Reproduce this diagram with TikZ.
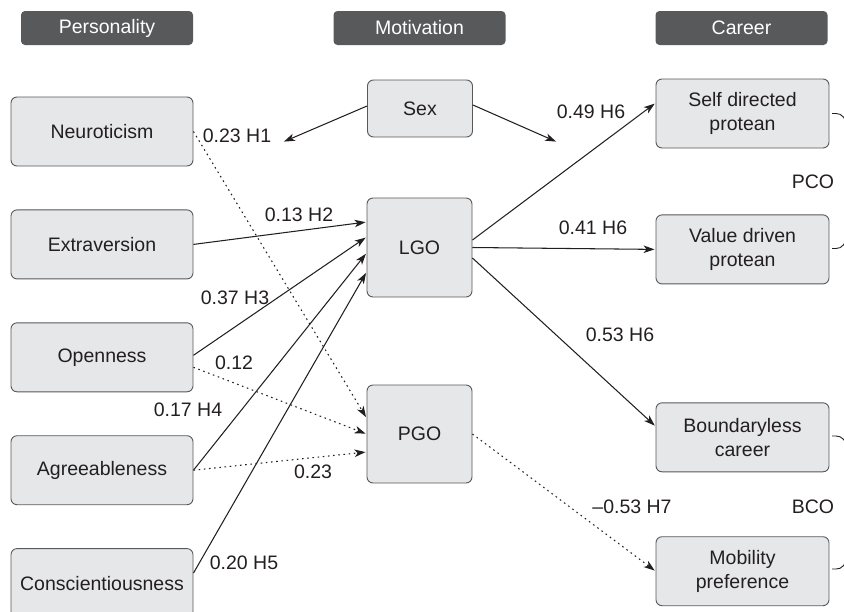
\documentclass[tikz,border=0pt]{standalone}
\usepackage{fontspec}
\setmainfont{Liberation Sans}
\usetikzlibrary{arrows.meta,positioning}

\definecolor{boxfill}{HTML}{E6E7E8}
\definecolor{boxline}{HTML}{58595B}
\definecolor{headfill}{HTML}{58595B}
\definecolor{ink}{HTML}{231F20}

\begin{document}
\begin{tikzpicture}[->,>={Stealth[length=11pt,width=7.5pt,inset=3pt]},shorten >=1pt,
                    x=1pt,y=-1pt,line width=1.05pt,color=ink,
                    font=\fontsize{19.5}{24.5}\selectfont]
  \tikzstyle{head}=[rectangle,rounded corners=4pt,fill=headfill,text=white,
                    minimum width=172pt,minimum height=34pt]
  \tikzstyle{trait}=[rectangle,rounded corners=6pt,fill=boxfill,draw=boxline,
                     line width=0.9pt,minimum width=182pt,minimum height=69pt,align=center]
  \tikzstyle{motive}=[trait,minimum width=105pt]
  \tikzstyle{career}=[trait,minimum width=173pt]
  \tikzstyle{weak}=[dash pattern=on 1.6pt off 3.6pt]
  \tikzstyle{coef}=[inner sep=0pt]

  \useasboundingbox (0,0) rectangle (844,611);

  \node[head]   (HP) at (107,28)       {Personality};
  \node[head]   (HM) at (419.5,28)     {Motivation};
  \node[head]   (HC) at (741.5,28)     {Career};

  \node[trait]  (N) at (102,131.5)           {Neuroticism};
  \node[trait]  (E) [below=43pt of N]        {Extraversion};
  \node[trait]  (O) [below=43pt of E]        {Openness};
  \node[trait]  (A) [below=43pt of O]        {Agreeableness};
  \node[trait]  (C) [below=43pt of A]        {Conscientiousness};

  \node[motive] (Sex) at (420,108.5) [minimum height=57pt] {Sex};
  \node[motive] (LGO) at (419.5,247.5) [minimum height=99pt] {LGO};
  \node[motive] (PGO) at (419.5,434) [minimum height=98pt] {PGO};

  \node[career] (SD) at (742.5,113.5)        {Self directed\\protean};
  \node[career] (VD) [below=66pt of SD]      {Value driven\\protean};
  \node[career] (BC) [below=118pt of VD]     {Boundaryless\\career};
  \node[career] (MP) [below=64pt of BC]      {Mobility\\preference};

  \coordinate (sexL) at (283,142);
  \coordinate (sexR) at (557,142);

  \path ([yshift=2.5pt]Sex.west) edge (sexL)
        ([yshift=3.5pt]Sex.east) edge (sexR)
        (E.east)                 edge ([yshift=25.5pt]LGO.west)
        ([yshift=2pt]O.east)     edge ([yshift=10.5pt]LGO.west)
        (A.east)                 edge ([yshift=-5.5pt]LGO.west)
        ([yshift=10pt]C.east)    edge ([yshift=-24.5pt]LGO.west)
        ([yshift=7.5pt]LGO.east) edge ([yshift=10.5pt]SD.west)
        (LGO.east)               edge (VD.west)
        ([yshift=-10.5pt]LGO.east) edge ([yshift=11pt]BC.west);

  \path[weak] (N.east)              edge ([yshift=16pt]PGO.west)
              ([yshift=-10pt]O.east) edge (PGO.west)
              (A.east)              edge ([yshift=-18pt]PGO.west)
              (PGO.east)            edge (MP.west);

  \node[coef] (c1) at (237,136)   {0.23 H1};
  \node[coef] (c2) at (299,215)   {0.13 H2};
  \node[coef] (c3) at (235,298)   {0.37 H3};
  \node[coef] (c4) at (234,363)   {0.12};
  \node[coef] (c5) at (188,410)   {0.17 H4};
  \node[coef] (c6) at (313,472)   {0.23};
  \node[coef] (c7) at (244,563)   {0.20 H5};
  \node[coef] (c8) at (591,112)   {0.49 H6};
  \node[coef] (c9) at (593,228)   {0.41 H6};
  \node[coef] (c10) at (620,335)  {0.53 H6};
  \node[coef] (c11) at (632,507)  {\textendash0.53 H7};
  \node[coef] (pco) at (813,182)  {PCO};
  \node[coef] (bco) at (813,507)  {BCO};

  % braces, cut by the page edge
  \draw[-,shorten >=0pt,line width=0.9pt] (832,113.5) -- (836,113.5) .. controls (842,113.5) and (846,118) .. (847,128)
        -- (847,234) .. controls (846,244) and (842,248.5) .. (836,248.5) -- (832,248.5);
  \draw[-,shorten >=0pt,line width=0.9pt] (832,436) -- (836,436) .. controls (842,436) and (846,440) .. (847,450)
        -- (847,555) .. controls (846,565) and (842,569) .. (836,569) -- (832,569);
\end{tikzpicture}
\end{document}
